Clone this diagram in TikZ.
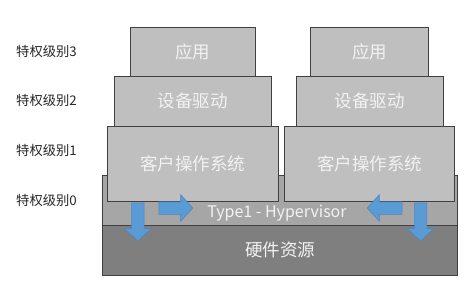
\documentclass[tikz,border=0pt]{standalone}
\usepackage{fontspec}
\setmainfont{Noto Sans CJK SC}
\usepackage{xcolor}
\usepackage{tikz}
\usetikzlibrary{shapes, shapes.arrows, positioning, calc}

\definecolor{boxgray}{HTML}{BFBFBF}
\definecolor{hypgray}{HTML}{A6A6A6}
\definecolor{hwgray}{HTML}{7F7F7F}
\definecolor{edgegray}{HTML}{404040}
\definecolor{txtgray}{HTML}{F2F2F2}
\definecolor{arrowblue}{HTML}{5B9BD5}
\definecolor{arrowedge}{HTML}{4A86BE}

\tikzset{
  layer/.style={draw=edgegray, rectangle, line width=0.6pt, inner sep=0pt,
    text=txtgray, font=\fontsize{17.5}{19}\selectfont},
  ringlabel/.style={anchor=west, inner sep=0pt, text=black!85,
    font=\fontsize{13.3}{15}\selectfont},
  blockarrow/.style={single arrow, draw=arrowedge, fill=arrowblue, line width=0.5pt,
    inner sep=6pt, single arrow head extend=7pt, single arrow tip angle=95}
}

\begin{document}
\begin{tikzpicture}[x=1pt, y=-1pt]
\useasboundingbox (0,0) rectangle (465,291);

% Hypervisor layer (behind the guest systems)
\node[layer, fill=hypgray, minimum width=354.7pt, minimum height=49.7pt] (hyp) at (280,200.5) {};
\node[text=txtgray, inner sep=0pt, font=\fontsize{16}{18}\selectfont] (hyptext) at (277,213.5) {Type1 - Hypervisor};

% Two guest stacks
\foreach \cx/\aw/\dw/\ow/\n in {192.8/125/156.3/170.7/L, 369.6/118.3/147/170/R} {
   \node[layer, fill=boxgray, minimum width=\aw pt, minimum height=49.3pt] (app\n) at (\cx,51.7) {应用};
   \node[layer, fill=boxgray, minimum width=\dw pt, minimum height=49.7pt] (drv\n) at (\cx,101.2) {设备驱动};
   \node[layer, fill=boxgray, minimum width=\ow pt, minimum height=75pt] (os\n) at (\cx,163.5) {客户操作系统};
}

% Hardware
\node[layer, fill=hwgray, minimum width=354.7pt, minimum height=49.7pt] (hw) at (280,250.2) {硬件资源};

% Privilege levels
\foreach \lv/\y in {3/51.7, 2/100, 1/150, 0/200} {
   \node[ringlabel] (ring\lv) at (16,\y) {特权级别\lv};
}

% Calls into the hypervisor / hardware
\node[blockarrow, minimum height=38pt, shape border rotate=270] (downL) at (137.8,219) {};
\node[blockarrow, minimum height=34pt] (toHypL) at (173,208) {};
\node[blockarrow, minimum height=35pt, shape border rotate=180] (toHypR) at (387.5,208) {};
\node[blockarrow, minimum height=38pt, shape border rotate=270] (downR) at (420.5,219) {};
\end{tikzpicture}
\end{document}
